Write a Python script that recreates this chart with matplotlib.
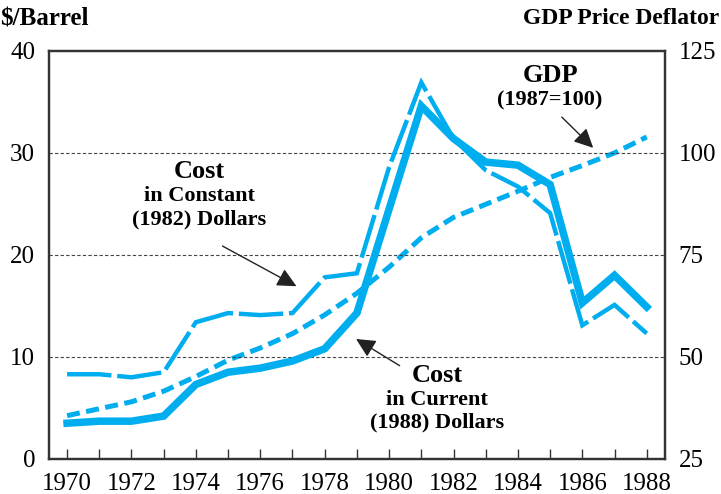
import matplotlib.pyplot as plt

# Data
years = list(range(1970, 1989))
cost_current = [3.5, 3.7, 3.7, 4.2, 7.3, 8.5, 8.9, 9.6, 10.8, 14.3,
                24.5, 34.6, 31.4, 29.1, 28.8, 26.9, 15.3, 18.0, 14.9]
cost_constant = [8.3, 8.3, 8.0, 8.5, 13.4, 14.3, 14.1, 14.3, 17.8, 18.2,
                 28.6, 36.9, 31.4, 28.3, 26.7, 24.1, 13.1, 15.1, 12.3]
gdp_deflator = [35.6, 37.3, 39.0, 41.6, 45.2, 49.2, 52.2, 55.7, 60.3, 65.6,
                72.0, 79.2, 84.2, 87.4, 90.6, 94.0, 96.9, 100.0, 103.9]

left_ticks = [0, 10, 20, 30, 40]
right_ticks = [25, 50, 75, 100, 125]

blue = "#00aeef"
plt.rcParams["font.family"] = ["Liberation Serif", "DejaVu Serif"]

fig = plt.figure(figsize=(7.21, 4.94), dpi=100)
ax = fig.add_axes([0.068, 0.071, 0.854, 0.826])
ax2 = ax.twinx()
ax.set_zorder(ax2.get_zorder() + 1)
ax.patch.set_visible(False)
ax2.patch.set_facecolor("#f0f1f3")

# GDP deflator on the right axis
ax2.plot(years, gdp_deflator, color=blue, lw=3.6, dashes=(2.6, 1.3),
         solid_capstyle="butt", dash_capstyle="butt")
ax2.set_ylim(25, 125)
ax2.set_yticks(right_ticks)
ax2.tick_params(axis="y", length=0, pad=10, labelsize=18)

# Oil costs on the left axis
ax.plot(years, cost_current, color=blue, lw=5.4, solid_joinstyle="miter", zorder=3)
ax.plot(years, cost_constant, color=blue, lw=3.2, dashes=(10, 1.3),
        dash_joinstyle="miter", dash_capstyle="butt", zorder=4)
ax.set_ylim(0, 40)
ax.set_xlim(1969.44, 1988.56)
ax.set_yticks(left_ticks)
ax.set_xticks(years)
ax.set_xticklabels([str(y) if y % 2 == 0 else "" for y in years])
ax.tick_params(axis="y", length=0, pad=10, labelsize=18)
ax.tick_params(axis="x", direction="in", length=7, width=1, color="#333333",
               pad=10, labelsize=18)
for y in [10, 20, 30]:
    ax.axhline(y, color="#444444", lw=0.8, ls=(0, (3, 2)), zorder=1)

for a in (ax, ax2):
    for s in a.spines.values():
        s.set_color("#333333")
        s.set_linewidth(1.6)

# Axis titles
fig.text(0.0, 0.962, "$/Barrel", fontsize=18, fontweight="bold", ha="left", va="center")
fig.text(0.997, 0.962, "GDP Price Deflator", fontsize=17, fontweight="bold", ha="right", va="center")

# Annotations
arrow = dict(arrowstyle="-|>,head_length=0.45,head_width=0.22", color="#222222",
             lw=1, mutation_scale=26)

ax.text(1974.1, 28.2, "Cost", fontsize=19, fontweight="bold", ha="center", va="center")
ax.text(1974.1, 25.8, "in Constant", fontsize=16, fontweight="bold", ha="center", va="center")
ax.text(1974.1, 23.5, "(1982) Dollars", fontsize=16, fontweight="bold", ha="center", va="center")
ax.annotate("", xy=(1977.2, 16.8), xytext=(1974.75, 21.0), arrowprops=arrow)

ax.text(1981.5, 8.2, "Cost", fontsize=19, fontweight="bold", ha="center", va="center")
ax.text(1981.5, 5.8, "in Current", fontsize=16, fontweight="bold", ha="center", va="center")
ax.text(1981.5, 3.6, "(1988) Dollars", fontsize=16, fontweight="bold", ha="center", va="center")
ax.annotate("", xy=(1978.9, 11.9), xytext=(1980.4, 9.0), arrowprops=arrow)

ax.text(1985.0, 37.6, "GDP", fontsize=19, fontweight="bold", ha="center", va="center")
ax.text(1985.0, 35.1, "(1987=100)", fontsize=16, fontweight="bold", ha="center", va="center")
ax.annotate("", xy=(1986.4, 30.3), xytext=(1985.3, 33.7), arrowprops=arrow)

fig.savefig("out.png", dpi=100)
